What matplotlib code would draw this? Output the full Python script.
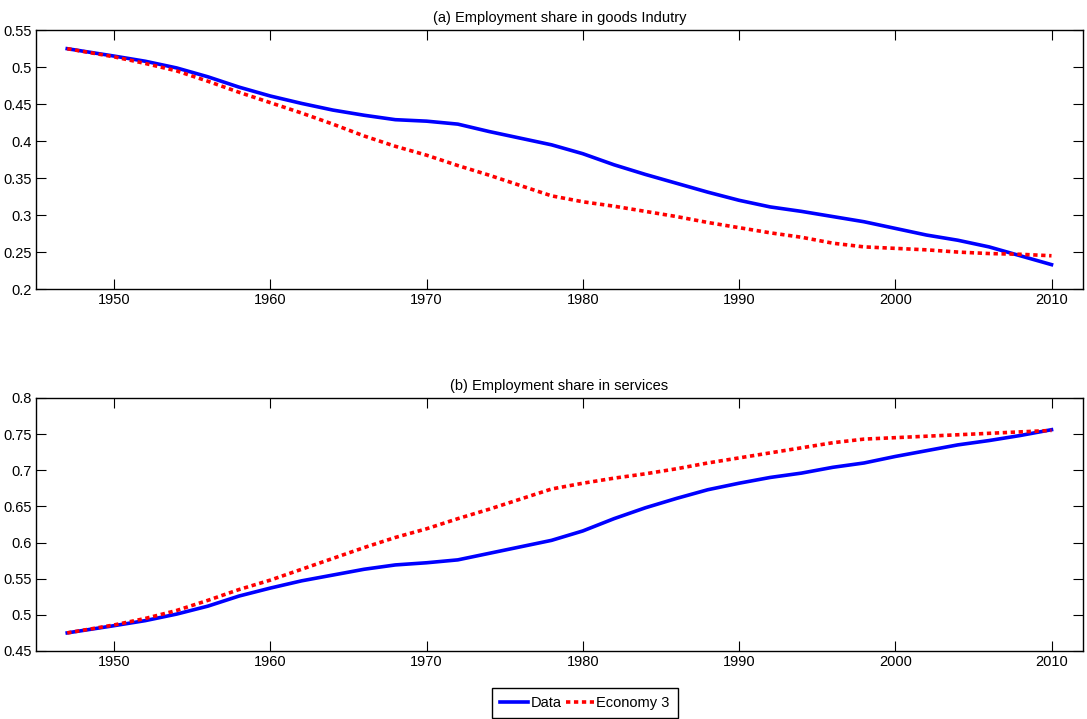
import numpy as np
import matplotlib
matplotlib.use('Agg')
import matplotlib.pyplot as plt

plt.rcParams['font.family'] = ['Liberation Sans', 'DejaVu Sans']

# years (1947, then every two years)
years = [1947, 1950, 1952, 1954, 1956, 1958, 1960, 1962, 1964, 1966, 1968,
         1970, 1972, 1974, 1976, 1978, 1980, 1982, 1984, 1986, 1988, 1990,
         1992, 1994, 1996, 1998, 2000, 2002, 2004, 2006, 2008, 2010]

# (a) goods industry
goods_data = [0.525, 0.515, 0.508, 0.499, 0.487, 0.473, 0.461, 0.451, 0.442,
              0.435, 0.429, 0.427, 0.423, 0.413, 0.404, 0.395, 0.383, 0.368,
              0.355, 0.343, 0.331, 0.320, 0.311, 0.305, 0.298, 0.291, 0.282,
              0.273, 0.266, 0.257, 0.245, 0.233]
goods_econ3 = [0.525, 0.514, 0.505, 0.495, 0.481, 0.466, 0.452, 0.438, 0.423,
               0.407, 0.393, 0.381, 0.367, 0.354, 0.340, 0.326, 0.318, 0.312,
               0.305, 0.298, 0.290, 0.283, 0.276, 0.270, 0.262, 0.257, 0.255,
               0.253, 0.250, 0.248, 0.247, 0.245]

# (b) services
serv_data = [0.475, 0.485, 0.492, 0.501, 0.512, 0.526, 0.537, 0.547, 0.555,
             0.563, 0.569, 0.572, 0.576, 0.585, 0.594, 0.603, 0.616, 0.633,
             0.648, 0.661, 0.673, 0.682, 0.690, 0.696, 0.704, 0.710, 0.719,
             0.727, 0.735, 0.741, 0.748, 0.756]
serv_econ3 = [0.475, 0.486, 0.495, 0.506, 0.520, 0.535, 0.548, 0.563, 0.578,
              0.593, 0.607, 0.619, 0.633, 0.646, 0.660, 0.674, 0.682, 0.689,
              0.695, 0.702, 0.710, 0.717, 0.724, 0.731, 0.738, 0.743, 0.745,
              0.747, 0.749, 0.751, 0.753, 0.755]

xticks = [1950, 1960, 1970, 1980, 1990, 2000, 2010]
yticks_a = np.arange(0.2, 0.551, 0.05)
yticks_b = np.arange(0.45, 0.801, 0.05)

def fmt(v):
    s = '%.2f' % v
    return s.rstrip('0').rstrip('.') if '.' in s else s

fig = plt.figure(figsize=(10.87, 7.19), dpi=100)
ax1 = fig.add_axes([0.0331, 0.598, 0.963, 0.360])
ax2 = fig.add_axes([0.0331, 0.0946, 0.963, 0.352])

panels = [(ax1, goods_data, goods_econ3, yticks_a, (0.2, 0.55),
           '(a) Employment share in goods Indutry'),
          (ax2, serv_data, serv_econ3, yticks_b, (0.45, 0.8),
           '(b) Employment share in services')]

for ax, d, e, yt, yl, title in panels:
    l1, = ax.plot(years, d, color='#0000ff', lw=2.6, label='Data')
    l2, = ax.plot(years, e, color='#ff0000', lw=2.6, linestyle=(0, (1.2, 1.0)),
                  label='Economy 3')
    ax.set_xlim(1945, 2012)
    ax.set_ylim(*yl)
    ax.set_xticks(xticks)
    ax.set_yticks(yt)
    ax.set_yticklabels([fmt(v) for v in yt])
    ax.tick_params(direction='in', length=7.5, width=0.8, top=True, right=True,
                   labelsize=10.5, pad=3)
    for sp in ax.spines.values():
        sp.set_linewidth(1.0)
    ax.set_title(title, fontsize=10.5, pad=6)

fig.legend([l1, l2], ['Data', 'Economy 3'], loc='upper center',
           bbox_to_anchor=(0.538, 1 - 688 / 719), ncol=2, fontsize=10.5,
           frameon=True, fancybox=False, edgecolor='black', framealpha=1,
           handlelength=1.9, columnspacing=0.3, handletextpad=0.2,
           borderpad=0.55, borderaxespad=0)

fig.savefig('out.png', dpi=100)
